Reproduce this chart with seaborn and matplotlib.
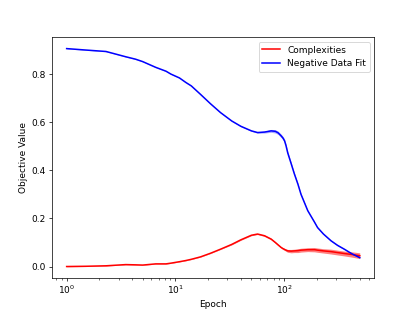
import matplotlib
matplotlib.use("Agg")
import matplotlib.pyplot as plt
import seaborn as sns
import pandas as pd

# valores
epochs = [1, 1.5, 2.3, 3.5, 4.3, 5, 6.6, 8.2, 9.1, 10.9, 12.5, 14, 17, 21, 26, 33, 40, 50,
          57, 66, 76, 83, 88, 94, 98, 101, 104, 108, 116, 124, 134, 143, 165, 190, 203, 230,
          270, 310, 358, 420, 496]
data_fit = [0.906, 0.900, 0.894, 0.872, 0.862, 0.852, 0.828, 0.812, 0.800, 0.784, 0.765,
            0.751, 0.716, 0.677, 0.640, 0.605, 0.583, 0.564, 0.557, 0.559, 0.564, 0.562,
            0.556, 0.543, 0.533, 0.522, 0.503, 0.472, 0.428, 0.386, 0.342, 0.300, 0.232,
            0.185, 0.162, 0.135, 0.107, 0.088, 0.072, 0.053, 0.037]
complexities = [0.0, 0.001, 0.003, 0.008, 0.007, 0.006, 0.011, 0.011, 0.014, 0.020, 0.025,
                0.030, 0.040, 0.055, 0.072, 0.092, 0.111, 0.130, 0.135, 0.128, 0.114, 0.100,
                0.090, 0.079, 0.074, 0.071, 0.068, 0.065, 0.064, 0.065, 0.066, 0.068, 0.070,
                0.070, 0.068, 0.065, 0.062, 0.058, 0.054, 0.050, 0.045]
# largura das bandas
fit_spread = [0.001, 0.001, 0.001, 0.001, 0.001, 0.001, 0.001, 0.001, 0.001, 0.001, 0.001,
              0.001, 0.001, 0.001, 0.001, 0.001, 0.002, 0.002, 0.003, 0.004, 0.006, 0.007,
              0.007, 0.007, 0.007, 0.007, 0.007, 0.007, 0.006, 0.005, 0.004, 0.003, 0.002,
              0.002, 0.002, 0.002, 0.002, 0.002, 0.002, 0.002, 0.002]
comp_spread = [0.001, 0.001, 0.001, 0.001, 0.001, 0.001, 0.001, 0.001, 0.001, 0.001, 0.001,
               0.001, 0.001, 0.001, 0.001, 0.002, 0.002, 0.002, 0.002, 0.003, 0.003, 0.003,
               0.003, 0.003, 0.004, 0.004, 0.005, 0.006, 0.007, 0.007, 0.008, 0.008, 0.008,
               0.009, 0.009, 0.009, 0.010, 0.010, 0.010, 0.011, 0.012]

df = pd.DataFrame({'Epoch': epochs, 'Complexities': complexities,
                   'Negative Data Fit': data_fit})

fig, ax = plt.subplots(figsize=(6.4, 4.8), dpi=65)

sns.lineplot(data=df, x='Epoch', y='Complexities', color='red', label='Complexities',
             linewidth=1.7, ax=ax)
sns.lineplot(data=df, x='Epoch', y='Negative Data Fit', color='blue',
             label='Negative Data Fit', linewidth=1.7, ax=ax)

# bandas
ax.fill_between(epochs, [c - s for c, s in zip(complexities, comp_spread)],
                [c + s for c, s in zip(complexities, comp_spread)], color='red', alpha=0.5,
                linewidth=0)
ax.fill_between(epochs, [d - s for d, s in zip(data_fit, fit_spread)],
                [d + s for d, s in zip(data_fit, fit_spread)], color='blue', alpha=0.35,
                linewidth=0)

ax.set_xscale('log')
ax.set_xlabel('Epoch')
ax.set_ylabel('Objective Value')
ax.legend(loc='upper right')

fig.savefig('out.png', dpi=65)
